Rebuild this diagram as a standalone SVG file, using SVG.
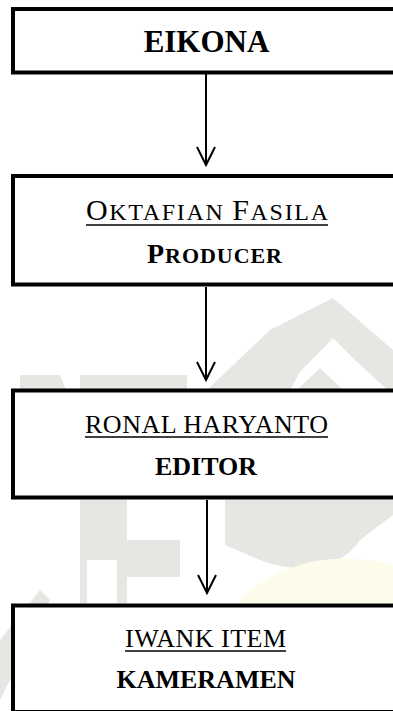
<svg xmlns="http://www.w3.org/2000/svg" width="393" height="711" viewBox="0 0 393 711">
<style>
.box{fill:#fff;stroke:#000;stroke-width:4}
.name{font-family:"Liberation Serif","Times New Roman",serif;font-size:26px;fill:#000}
.role{font-family:"Liberation Serif","Times New Roman",serif;font-size:26px;font-weight:bold;fill:#000}
.ul{stroke:#000;stroke-width:1.4}
.conn{fill:none;stroke:#000;stroke-width:2}
.wm{fill:#e5e7e3}
.wy{fill:#fdfbea}
</style>
<defs>
<marker id="arr" markerUnits="userSpaceOnUse" markerWidth="24" markerHeight="24" refX="0" refY="0" orient="auto" overflow="visible">
<path d="M-18,-9 L0,0 L-18,9" fill="none" stroke="#000" stroke-width="2"/>
</marker>
</defs>
<rect width="393" height="711" fill="#fff"/>
<g id="watermark">
<polygon class="wm" points="333,298 393,350 393,395 355,360 333,338 300,372 290,390 207,390 270,330"/>
<polygon class="wm" points="20,375 60,375 66,390 20,390"/>
<polygon class="wm" points="80,375 187,375 187,390 80,390"/>
<polygon class="wm" points="295,392 320,368 345,392"/>
<polygon class="wm" points="80,500 127,500 127,540 180,540 180,577 127,577 127,603 117,603 117,560 87,560 87,603 80,603"/>
<path class="wm" d="M225,500 L393,500 L393,515 L360,540 C340,570 300,575 260,560 L225,545 Z"/>
<polygon class="wm" points="0,700 0,640 40,590 50,600 20,660"/>
<path class="wy" d="M240,600 C280,560 340,550 393,565 L393,603 L240,603 Z"/>
</g>
<g id="connectors">
<line class="conn" x1="206" y1="74" x2="206" y2="165" marker-end="url(#arr)"/>
<line class="conn" x1="206" y1="287" x2="206" y2="380" marker-end="url(#arr)"/>
<line class="conn" x1="207" y1="500" x2="207" y2="593" marker-end="url(#arr)"/>
</g>
<g id="eikona">
<rect class="box" x="13" y="9" width="400" height="63.5"/>
<text class="role" x="206.5" y="52" text-anchor="middle" style="font-size:31px">EIKONA</text>
</g>
<g id="producer">
<rect class="box" x="13" y="176" width="400" height="108.5"/>
<text class="name" x="86" y="220" textLength="242" lengthAdjust="spacing"><tspan style="font-size:30px">O</tspan><tspan style="font-size:24px">KTAFIAN </tspan><tspan style="font-size:30px">F</tspan><tspan style="font-size:24px">ASILA</tspan></text>
<line class="ul" x1="86" y1="225" x2="328" y2="225"/>
<text class="role" x="147" y="263" textLength="135" lengthAdjust="spacing"><tspan style="font-size:28px">P</tspan><tspan style="font-size:22px">RODUCER</tspan></text>
</g>
<g id="editor">
<rect class="box" x="13" y="390.5" width="400" height="107"/>
<text class="name" x="85" y="433" textLength="243" lengthAdjust="spacing">RONAL HARYANTO</text>
<line class="ul" x1="85" y1="437" x2="328" y2="437"/>
<text class="role" x="206" y="475" text-anchor="middle">EDITOR</text>
</g>
<g id="kameramen">
<rect class="box" x="13" y="605.5" width="400" height="106.5"/>
<text class="name" x="125" y="647" textLength="161" lengthAdjust="spacing">IWANK ITEM</text>
<line class="ul" x1="125" y1="651" x2="286" y2="651"/>
<text class="role" x="206" y="688" text-anchor="middle">KAMERAMEN</text>
</g>
</svg>
